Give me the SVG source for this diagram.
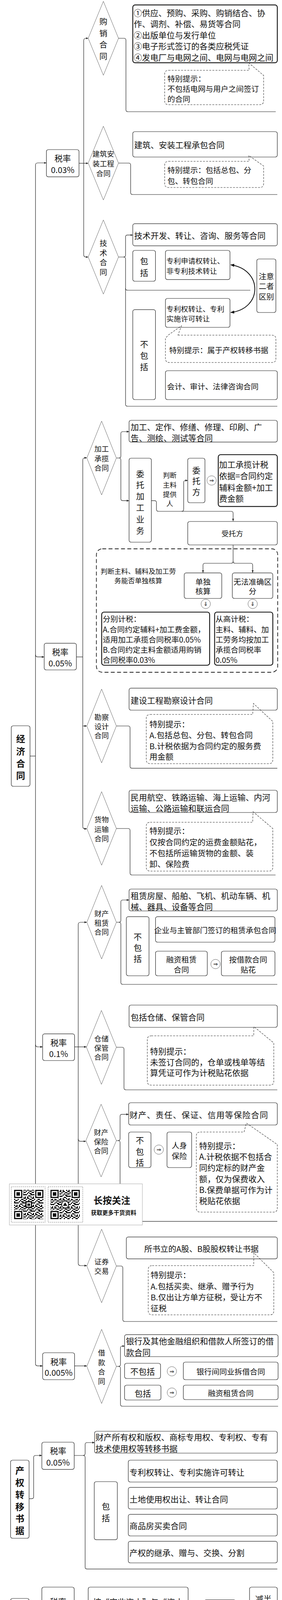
<svg xmlns="http://www.w3.org/2000/svg" width="721" height="5139" viewBox="0 0 721 5139">
<defs>
<style>
text{font-family:"Noto Sans CJK SC","Noto Sans",sans-serif;fill:#111;dominant-baseline:central}
.m{text-anchor:middle}
.f17{font-size:17.5px}.f18{font-size:18.5px}.f19{font-size:19.5px}.f20{font-size:20.5px}.f21{font-size:21px}
.tb{font-size:23px;font-weight:700}
.b{fill:#fff;stroke:#222;stroke-width:1.2}
.bt{fill:#fff;stroke:#111;stroke-width:2.2}
.d{fill:#fff;stroke:#555;stroke-width:0.9}
.c{fill:none;stroke:#333;stroke-width:1.1;stroke-dasharray:5 3}
.l{fill:none;stroke:#222;stroke-width:1.2}
.me{marker-end:url(#a)}
.ar{fill:#fff;stroke:#555;stroke-width:0.9}
.at{font-family:"DejaVu Sans",sans-serif;font-size:14px;text-anchor:middle}
</style>
<marker id="a" viewBox="0 0 6 6" refX="6" refY="3" markerWidth="6" markerHeight="6" markerUnits="userSpaceOnUse" orient="auto"><path d="M0,0.5 L6,3 L0,5.5 z" fill="#222"/></marker>
<marker id="a2" viewBox="0 0 10 10" refX="9" refY="5" markerWidth="10" markerHeight="10" markerUnits="userSpaceOnUse" orient="auto-start-reverse"><path d="M0,1 L10,5 L0,9 z" fill="#111"/></marker>
<pattern id="qrp" width="21" height="21" patternUnits="userSpaceOnUse"><path d="M0,0h3v3h-3z M6,0h6v3h-6z M18,0h3v3h-3z M3,3h3v3h-3z M12,3h6v3h-6z M0,6h3v3h-3z M9,6h3v3h-3z M18,6h3v3h-3z M6,9h3v3h-3z M12,9h6v3h-6z M0,12h6v3h-6z M15,12h6v3h-6z M9,15h6v3h-6z M0,18h3v3h-3z M6,18h3v3h-3z M15,18h3v3h-3z" fill="#111"/></pattern>
<pattern id="qrp2" href="#qrp" patternTransform="translate(7,4)"/>
<g id="fp"><rect x="-2" y="-2" width="25" height="25" fill="#fff"/><rect width="21" height="21" fill="#111"/><rect x="3" y="3" width="15" height="15" fill="#fff"/><rect x="6" y="6" width="9" height="9" fill="#111"/></g>
</defs>
<rect width="721" height="5139" fill="#fff"/>

<g id="connectors">
<path class="l" d="M76.7,1935.5 H90.7"/>
<path class="l" d="M90.7,423 V3490.7"/>
<path class="l me" d="M90.7,423 Q90.7,417 96.7,417 H118.6"/>
<path class="l me" d="M90.7,1675.7 Q90.7,1681.7 96.7,1681.7 H113"/>
<path class="l me" d="M90.7,2674 Q90.7,2680 96.7,2680 H109"/>
<path class="l me" d="M90.7,3490.7 Q90.7,3496.7 96.7,3496.7 H109"/>
<path class="l" d="M202,418 H214"/>
<path class="l" d="M214,104 V652"/>
<path class="l me" d="M214,104 Q214,98 220,98 H225.5"/>
<path class="l me" d="M214,418 H225.5"/>
<path class="l me" d="M214,652 Q214,658 220,658 H225.5"/>
<path class="l" d="M303,98 H317 Q322,98 322,103 V281 Q322,286 327,286 H705"/>
<path class="l" d="M303,417.5 H329 Q334,417.5 334,422.5 V493 Q334,498 339,498 H709"/>
<path class="l me" d="M303,658 H316 Q321,658 321,653 V606.7 Q321,601.7 326,601.7 H339.5"/>
<path class="l" d="M316,658 Q321,658 321,663 V1035 Q321,1040 326,1040 H709"/>
<path class="l" d="M321,738 Q321,743 326,743 H640"/>
<path fill="none" stroke="#111" stroke-width="2" marker-start="url(#a2)" marker-end="url(#a2)" d="M590,678 C672,690 672,790 590,800"/>
<path class="l" d="M195,1681.7 H211.6"/>
<path class="l" d="M211.6,1178 V2115.7"/>
<path class="l me" d="M211.6,1178 Q211.6,1172 217.6,1172 H222"/>
<path class="l me" d="M211.6,1858.5 H222"/>
<path class="l me" d="M211.6,2115.7 Q211.6,2121.7 217.6,2121.7 H222"/>
<path class="l me" d="M297.6,1172.5 H304 Q309,1172.5 309,1167.5 V1110 Q309,1105 314,1105 H330"/>
<path class="l me" d="M304,1172.5 Q309,1172.5 309,1177.5 V1276.7 Q309,1281.7 314,1281.7 H330"/>
<path class="l me" d="M387,1281.7 H395 Q400,1281.7 400,1286.7 V1304 Q400,1309 405,1309 H591 Q596,1309 596,1314 V1334"/>
<path class="l me" d="M464.6,1309 Q469.6,1309 469.6,1304 V1235 Q469.6,1230 474.6,1230 H480"/>
<path class="l me" d="M596,1395 V1437 Q596,1442 591,1442 H524 Q519,1442 519,1447 V1466"/>
<path class="l me" d="M596,1437 Q596,1442 601,1442 H641 Q646,1442 646,1447 V1466"/>
<path class="l" d="M297.6,1858.5 H327.5 Q332.5,1858.5 332.5,1863.5 V1961.7 Q332.5,1966.7 337.5,1966.7 H709"/>
<path class="l" d="M297.6,2121 H327.5 Q332.5,2121 332.5,2126 V2235 Q332.5,2240 337.5,2240 H704.5"/>
<path class="l me" d="M190.6,2680 H221"/>
<path class="l" d="M200,2367 V3234"/>
<path class="l me" d="M200,2367 Q200,2361 206,2361 H222"/>
<path class="l me" d="M200,2915.7 Q200,2921.7 206,2921.7 H219.5"/>
<path class="l me" d="M200,3234 Q200,3240 206,3240 H222"/>
<path class="l me" d="M297.6,2361 H304 Q309,2361 309,2356 V2309 Q309,2304 314,2304 H330"/>
<path class="l" d="M304,2361 Q309,2361 309,2366 V2515 Q309,2520 314,2520 H709"/>
<path class="l" d="M297.6,2681 H312 Q317,2681 317,2686 V2785 Q317,2790 322,2790 H709"/>
<path class="l me" d="M297.6,2920 H302 Q307,2920 307,2915 V2857.7 Q307,2852.7 312,2852.7 H329"/>
<path class="l" d="M302,2920 Q307,2920 307,2925 V3121.7 Q307,3126.7 312,3126.7 H709"/>
<path class="l" d="M297.6,3241 H309 Q314,3241 314,3246 V3378 Q314,3383 319,3383 H709"/>
<path class="l me" d="M190.6,3496.7 H222"/>
<path class="l me" d="M297.6,3498 H303 Q308,3498 308,3493 V3451 Q308,3446 313,3446 H318.5"/>
<path class="l" d="M303,3498 Q308,3498 308,3503 V3595 Q308,3600 313,3600 H711"/>
<path class="l me" d="M74.4,3836.7 H81 Q86,3836.7 86,3831.7 V3731 Q86,3726 91,3726 H107"/>
<path class="l me" d="M189.7,3726 H212.6 Q217.6,3726 217.6,3721 V3698 Q217.6,3693 222.6,3693 H241.8"/>
<path class="l" d="M212.6,3726 Q217.6,3726 217.6,3731 V4011.7 Q217.6,4016.7 222.6,4016.7 H709"/>
<path class="l me" d="M74.4,4168 H82.4 Q87.4,4168 87.4,4163 V4117.7 Q87.4,4112.7 92.4,4112.7 H107"/>
<path class="l me" d="M82.4,4168 Q87.4,4168 87.4,4173 V4224 Q87.4,4229 92.4,4229 H107"/>
<path class="l me" d="M189.7,4112.7 H225.5"/>
<path class="l me" d="M189.7,4229 H225.5"/>
<path class="l" d="M481,4112.7 H495 Q500,4112.7 500,4117.7 V4286.7 Q500,4291.7 505,4291.7 H709"/>
<path class="l me" d="M481,4229 H500"/>
<path class="l me" d="M82.8,4416.7 H107"/>
<path class="l" d="M189.7,4416.7 H199.6 Q204.6,4416.7 204.6,4421.7 V4505 Q204.6,4510 209.6,4510 H704.5"/>
<path class="l" d="M82.8,4641.7 H92.6 Q97.6,4641.7 97.6,4646.7 V4738 Q97.6,4743 102.6,4743 H702"/>
<path class="l me" d="M82.8,4866.7 H118.6"/>
<path class="l" d="M223,4866.7 H709"/>
<path class="l" d="M223,4866.7 H231 Q236,4866.7 236,4871.7 V4939 Q236,4944 241,4944 H709"/>
</g>

<g id="n-jingji"><rect class="b" x="28.8" y="1858" width="47.9" height="155" rx="5"/>
<text class="tb m" x="52.7" y="1890">经</text><text class="tb m" x="52.7" y="1921.7">济</text><text class="tb m" x="52.7" y="1953">合</text><text class="tb m" x="52.7" y="1984">同</text></g>

<g id="n-r003"><rect class="b" x="118.6" y="383" width="83.4" height="69.7" rx="5"/><text class="f21 m" x="160.3" y="404">税率</text><text class="f21 m" x="160.3" y="434">0.03%</text></g>
<g id="n-gouxiao"><polygon class="d" points="225.5,98 264.3,3.3 303,98 264.3,192.7"/>
<text class="f20 m" x="264.3" y="54">购</text><text class="f20 m" x="264.3" y="83.5">销</text><text class="f20 m" x="264.3" y="113">合</text><text class="f20 m" x="264.3" y="142.5">同</text></g>
<g id="n-gx1"><rect class="bt" x="339.5" y="12.7" width="369.5" height="148" rx="6"/>
<text class="f21" x="342" y="31.7">①供应、预购、采购、购销结合、协</text><text class="f21" x="342" y="60">作、调剂、补偿、易货等合同</text><text class="f21" x="342" y="88.5">②出版单位与发行单位</text><text class="f21" x="342" y="117">③电子形式签订的各类应税凭证</text><text class="f21" x="342" y="145.7">④发电厂与电网之间、电网与电网之间</text></g>
<g id="n-gx2"><path class="c" d="M431,180 H637 L636,161 L674,193 V258 Q674,268 664,268 H431 Q421,268 421,258 V190 Q421,180 431,180 Z"/>
<text class="f19" x="428" y="200">特别提示：</text><text class="f19" x="428" y="226">不包括电网与用户之间签订</text><text class="f19" x="428" y="252">的合同</text></g>

<g id="n-jianzhu"><polygon class="d" points="225.5,417.5 264.3,323 303,417.5 264.3,512"/>
<text class="f18 m" x="264.3" y="393">建筑安</text><text class="f18 m" x="264.3" y="418">装工程</text><text class="f18 m" x="264.3" y="443">合同</text></g>
<g id="n-jz1"><rect class="b" x="339.5" y="337" width="369.5" height="65" rx="5"/><text class="f21" x="343" y="370">建筑、安装工程承包合同</text></g>
<g id="n-jz2"><path class="c" d="M431,413 H637 L636,398 L674,425 V470 Q674,480 664,480 H431 Q421,480 421,470 V423 Q421,413 431,413 Z"/>
<text class="f19" x="428" y="434">特别提示：包括总包、分</text><text class="f19" x="428" y="462">包、转包合同</text></g>

<g id="n-jishu"><polygon class="d" points="225.5,658 264.3,563 303,658 264.3,753"/>
<text class="f19 m" x="264.3" y="621.7">技</text><text class="f19 m" x="264.3" y="646">术</text><text class="f19 m" x="264.3" y="670.5">合</text><text class="f19 m" x="264.3" y="695">同</text></g>
<g id="n-js1"><rect class="b" x="339.5" y="572.7" width="369.5" height="56.6" rx="5"/><text class="f21" x="343" y="601.7">技术开发、转让、咨询、服务等合同</text></g>
<g id="n-js2"><rect class="b" x="339.5" y="641" width="58" height="79" rx="5"/><text class="f21 m" x="368.5" y="666.7">包</text><text class="f21 m" x="368.5" y="696.7">括</text></g>
<g id="n-js3"><rect class="b" x="423" y="641" width="165" height="74.7" rx="5"/><text class="f18" x="425.5" y="667">专利申请权转让、</text><text class="f18" x="425.5" y="693">非专利技术转让</text></g>
<g id="n-js4"><rect class="b" x="656.6" y="663" width="48.8" height="137" rx="5"/><text class="f19 m" x="681" y="706.7">注意</text><text class="f19 m" x="681" y="731.7">二者</text><text class="f19 m" x="681" y="758">区别</text></g>
<g id="n-js5"><rect class="b" x="423" y="764" width="165" height="74" rx="5"/><text class="f18" x="425.5" y="790">专利权转让、专利</text><text class="f18" x="425.5" y="815">实施许可转让</text></g>
<g id="n-js6"><rect class="b" x="339.5" y="792.7" width="58" height="230.3" rx="5"/><text class="f21 m" x="368.5" y="880">不</text><text class="f21 m" x="368.5" y="909">包</text><text class="f21 m" x="368.5" y="938">括</text></g>
<g id="n-js7"><path class="c" d="M455,858 H695.4 Q705.4,858 705.4,868 V918 Q705.4,928 695.4,928 H433 Q423,928 423,918 V866 L430,858 L464,834 Z"/><text class="f19" x="432.5" y="895">特别提示：属于产权转移书据</text></g>
<g id="n-js8"><rect class="b" x="423" y="949" width="286" height="74" rx="5"/><text class="f19" x="427" y="988">会计、审计、法律咨询合同</text></g>

<g id="n-r005"><rect class="b" x="113" y="1646.7" width="82.3" height="68.3" rx="5"/><text class="f21 m" x="154" y="1668">税率</text><text class="f21 m" x="154" y="1697">0.05%</text></g>
<g id="n-jiagong"><polygon class="d" points="222,1172.5 259.8,1078 297.6,1172.5 259.8,1267"/>
<text class="f18 m" x="259.8" y="1148">加工</text><text class="f18 m" x="259.8" y="1173">承揽</text><text class="f18 m" x="259.8" y="1197">合同</text></g>
<g id="n-jg1"><rect class="b" x="330" y="1076" width="379" height="55.7" rx="5"/><text class="f21" x="334" y="1091.7">加工、定作、修缮、修理、印刷、广</text><text class="f21" x="334" y="1120">告、测绘、测试等合同</text></g>
<g id="n-jg2"><rect class="b" x="330" y="1173" width="57" height="215" rx="5"/>
<text class="f21 m" x="358.5" y="1211.7">委</text><text class="f21 m" x="358.5" y="1240">托</text><text class="f21 m" x="358.5" y="1269">加</text><text class="f21 m" x="358.5" y="1298">工</text><text class="f21 m" x="358.5" y="1328">业</text><text class="f21 m" x="358.5" y="1357">务</text></g>
<g id="n-jg3"><text class="f17 m" x="434" y="1215">判断</text><text class="f17 m" x="434" y="1240">主料</text><text class="f17 m" x="434" y="1264">提供</text><text class="f17 m" x="434" y="1288">人</text></g>
<g id="n-jg4"><rect class="b" x="480" y="1173" width="44" height="114" rx="5"/><text class="f21 m" x="502" y="1203">委</text><text class="f21 m" x="502" y="1230">托</text><text class="f21 m" x="502" y="1258">方</text></g>
<g id="n-jg5"><circle class="ar" cx="541" cy="1230" r="12"/><text class="at" x="541" y="1230">⇒</text></g>
<g id="n-jg6"><rect class="bt" x="558" y="1164" width="151" height="132.7" rx="6"/>
<text class="f21" x="560" y="1188">加工承揽计税</text><text class="f21" x="560" y="1217">依据=合同约定</text><text class="f21" x="560" y="1246.5">辅料金额+加工</text><text class="f21" x="560" y="1275">费金额</text></g>
<g id="n-jg7"><rect class="b" x="480" y="1335" width="229" height="60" rx="5"/><text class="f18 m" x="594" y="1365">受托方</text></g>
<g id="n-jg8"><rect x="246.5" y="1405" width="463.5" height="316" rx="15" fill="none" stroke="#222" stroke-width="1.8" stroke-dasharray="10 6"/>
<text class="f17 m" x="353.5" y="1461.7">判断主料、辅料及加工劳</text><text class="f17 m" x="353.5" y="1485">务能否单独核算</text></g>
<g id="n-jg9"><rect class="b" x="471" y="1466.7" width="96" height="65.3" rx="5"/><text class="f19 m" x="519" y="1488">单独</text><text class="f19 m" x="519" y="1512">核算</text></g>
<g id="n-jg10"><rect class="b" x="594" y="1466.7" width="103.5" height="65.3" rx="5"/><text class="f19 m" x="645.7" y="1488">无法准确区</text><text class="f19 m" x="645.7" y="1512">分</text></g>
<g id="n-jg11"><circle class="ar" cx="526" cy="1546" r="12"/><text class="at" x="526" y="1546">⇓</text><circle class="ar" cx="646" cy="1546" r="12"/><text class="at" x="646" y="1546">⇓</text></g>
<g id="n-jg12"><rect class="bt" x="260" y="1567" width="276" height="136" rx="6"/>
<text class="f19" x="262.7" y="1583">分别计税：</text><text class="f19" x="262.7" y="1610">A.合同约定辅料+加工费金额，</text><text class="f19" x="262.7" y="1636.7">适用加工承揽合同税率0.05%</text><text class="f19" x="262.7" y="1662.7">B.合同约定主料金额适用购销</text><text class="f19" x="262.7" y="1688">合同税率0.03%</text></g>
<g id="n-jg13"><rect class="bt" x="548.7" y="1567" width="148.8" height="136" rx="6"/>
<text class="f19" x="551" y="1583">从高计税：</text><text class="f19" x="551" y="1610">主料、辅料、加</text><text class="f19" x="551" y="1636.7">工劳务均按加工</text><text class="f19" x="551" y="1662.7">承揽合同税率</text><text class="f19" x="551" y="1688">0.05%</text></g>

<g id="n-kancha"><polygon class="d" points="222,1858.5 259.8,1764 297.6,1858.5 259.8,1953"/>
<text class="f18 m" x="259.8" y="1835">勘察</text><text class="f18 m" x="259.8" y="1858.5">设计</text><text class="f18 m" x="259.8" y="1882">合同</text></g>
<g id="n-kc1"><rect class="b" x="330" y="1761.7" width="379" height="56.3" rx="5"/><text class="f21" x="334" y="1791.7">建设工程勘察设计合同</text></g>
<g id="n-kc2"><path class="c" d="M384,1829 H646 L648,1801 L697.5,1847 V1945 Q697.5,1955 687.5,1955 H384 Q374,1955 374,1945 V1839 Q374,1829 384,1829 Z"/>
<text class="f20" x="382" y="1853">特别提示：</text><text class="f20" x="382" y="1881">A.包括总包、分包、转包合同</text><text class="f20" x="382" y="1908.5">B.计税依据为合同约定的服务费</text><text class="f20" x="382" y="1936">用金额</text></g>

<g id="n-huowu"><polygon class="d" points="222,2121 259.8,2026.7 297.6,2121 259.8,2215"/>
<text class="f18 m" x="259.8" y="2097">货物</text><text class="f18 m" x="259.8" y="2121.5">运输</text><text class="f18 m" x="259.8" y="2145.5">合同</text></g>
<g id="n-hw1"><rect class="b" x="330" y="2023" width="379" height="57" rx="5"/><text class="f21" x="334" y="2040">民用航空、铁路运输、海上运输、内河</text><text class="f21" x="334" y="2068">运输、公路运输和联运合同</text></g>
<g id="n-hw2"><path class="c" d="M384,2105 H646 L647,2078 L697.5,2121 V2220 Q697.5,2230 687.5,2230 H384 Q374,2230 374,2220 V2115 Q374,2105 384,2105 Z"/>
<text class="f20" x="382" y="2126">特别提示：</text><text class="f20" x="382" y="2154.5">仅按合同约定的运费金额贴花，</text><text class="f20" x="382" y="2183">不包括所运输货物的金额、装</text><text class="f20" x="382" y="2211">卸、保险费</text></g>

<g id="n-r01"><rect class="b" x="109" y="2646.7" width="81.6" height="68.3" rx="5"/><text class="f21 m" x="149.8" y="2668">税率</text><text class="f21 m" x="149.8" y="2696.7">0.1%</text></g>
<g id="n-zulin"><polygon class="d" points="222,2361 259.8,2266.7 297.6,2361 259.8,2455"/>
<text class="f18 m" x="259.8" y="2338">财产</text><text class="f18 m" x="259.8" y="2361.7">租赁</text><text class="f18 m" x="259.8" y="2385">合同</text></g>
<g id="n-zl1"><rect class="b" x="330" y="2276" width="379" height="56" rx="5"/><text class="f21" x="334" y="2291.7">租赁房屋、船舶、飞机、机动车辆、机</text><text class="f21" x="334" y="2320">械、器具、设备等合同</text></g>
<g id="n-zl2"><rect class="b" x="323" y="2346.7" width="58" height="151.3" rx="5"/><text class="f21 m" x="352" y="2396.7">不</text><text class="f21 m" x="352" y="2425">包</text><text class="f21 m" x="352" y="2453">括</text></g>
<g id="n-zl3"><rect class="b" x="397.6" y="2346.7" width="305.4" height="65.3" rx="5"/><text class="f19 m" x="550.3" y="2380">企业与主管部门签订的租赁承包合同</text></g>
<g id="n-zl4"><rect class="b" x="397.6" y="2435" width="132.4" height="63" rx="5"/><text class="f19 m" x="463.8" y="2455">融资租赁</text><text class="f19 m" x="463.8" y="2481">合同</text></g>
<g id="n-zl5"><circle class="ar" cx="551" cy="2468" r="12"/><text class="at" x="551" y="2468">⇒</text></g>
<g id="n-zl6"><rect class="b" x="566" y="2435" width="137" height="63" rx="5"/><text class="f19 m" x="634.5" y="2455">按借款合同</text><text class="f19 m" x="634.5" y="2481">贴花</text></g>

<g id="n-cangchu"><polygon class="d" points="221,2681 259.3,2586.7 297.6,2681 259.3,2776"/>
<text class="f18 m" x="259.3" y="2658">仓储</text><text class="f18 m" x="259.3" y="2681.7">保管</text><text class="f18 m" x="259.3" y="2705">合同</text></g>
<g id="n-cc1"><rect class="b" x="330" y="2573" width="379" height="57" rx="5"/><text class="f21" x="334" y="2602.7">包括仓储、保管合同</text></g>
<g id="n-cc2"><path class="c" d="M386.6,2651.7 H648.7 L649,2628 L700,2670 V2768 Q700,2778 690,2778 H386.6 Q376.6,2778 376.6,2768 V2661.7 Q376.6,2651.7 386.6,2651.7 Z"/>
<text class="f21" x="383.6" y="2690">特别提示：</text><text class="f21" x="383.6" y="2718">未签订合同的，仓单或栈单等结</text><text class="f21" x="383.6" y="2745">算凭证可作为计税贴花依据</text></g>

<g id="n-baoxian"><polygon class="d" points="219.5,2920 258.5,2826.7 297.6,2920 258.5,3013"/>
<text class="f18 m" x="258.5" y="2898">财产</text><text class="f18 m" x="258.5" y="2921.7">保险</text><text class="f18 m" x="258.5" y="2945">合同</text></g>
<g id="n-bx1"><rect class="b" x="329" y="2823" width="380" height="57" rx="5"/><text class="f21" x="331" y="2853" letter-spacing="1.2">财产、责任、保证、信用等保险合同</text></g>
<g id="n-bx2"><rect class="b" x="329" y="2898" width="57" height="91" rx="5"/><text class="f21 m" x="357.5" y="2918">不</text><text class="f21 m" x="357.5" y="2946.7">包</text><text class="f21 m" x="357.5" y="2975">括</text></g>
<g id="n-bx3"><circle class="ar" cx="406" cy="2943" r="12"/><text class="at" x="406" y="2943">⇒</text></g>
<g id="n-bx4"><rect class="b" x="427" y="2898" width="63" height="91" rx="5"/><text class="f19 m" x="458.5" y="2931.7">人身</text><text class="f19 m" x="458.5" y="2958">保险</text></g>
<g id="n-bx5"><path class="c" d="M512,2898 H624 L630,2875 L709,2930 V3093 Q709,3103 699,3103 H512 Q502,3103 502,3093 V2908 Q502,2898 512,2898 Z"/>
<text class="f21" x="509" y="2931.7">特别提示：</text><text class="f21" x="509" y="2960">A.计税依据不包括合</text><text class="f21" x="509" y="2988.3">同约定标的财产金</text><text class="f21" x="509" y="3016.7">额，仅为保费收入</text><text class="f21" x="509" y="3045">B.保费单据可作为计</text><text class="f21" x="509" y="3073.3">税贴花依据</text></g>

<g id="n-zhengquan"><polygon class="d" points="222,3241 259.8,3146.7 297.6,3241 259.8,3335"/>
<text class="f18 m" x="259.8" y="3229">证券</text><text class="f18 m" x="259.8" y="3253">交易</text></g>
<g id="n-zq1"><rect class="b" x="323" y="3166.7" width="386" height="56" rx="5"/><text class="f20 m" x="515" y="3196">所书立的A股、B股股权转让书据</text></g>
<g id="n-zq2"><path class="c" d="M389,3240 H648.7 L649,3207 L700,3258 V3356 Q700,3366 690,3366 H389 Q379,3366 379,3356 V3250 Q379,3240 389,3240 Z"/>
<text class="f20" x="385" y="3263">特别提示：</text><text class="f20" x="385" y="3291.7">A.包括买卖、继承、赠予行为</text><text class="f20" x="385" y="3320">B.仅出让方单方征税，受让方不</text><text class="f20" x="385" y="3348">征税</text></g>

<g id="n-r0005"><rect class="b" x="109" y="3463" width="81.6" height="69" rx="5"/><text class="f21 m" x="149.8" y="3485">税率</text><text class="f21 m" x="149.8" y="3513">0.005%</text></g>
<g id="n-jiekuan"><polygon class="d" points="222,3498 259.8,3403 297.6,3498 259.8,3593"/>
<text class="f18 m" x="259.8" y="3461.7">借</text><text class="f18 m" x="259.8" y="3486.5">款</text><text class="f18 m" x="259.8" y="3511">合</text><text class="f18 m" x="259.8" y="3535">同</text></g>
<g id="n-jk1"><rect class="b" x="318.5" y="3416.7" width="392.5" height="56.3" rx="5"/><text class="f21" x="322" y="3432">银行及其他金融组织和借款人所签订的借</text><text class="f21" x="322" y="3461">款合同</text></g>
<g id="n-jk2"><rect class="b" x="318.5" y="3490" width="92" height="39" rx="5"/><text class="f21 m" x="364.5" y="3510">不包括</text></g>
<g id="n-jk3"><circle class="ar" cx="439.4" cy="3510.5" r="12"/><text class="at" x="439.4" y="3510.5">⇒</text></g>
<g id="n-jk4"><rect class="b" x="468.7" y="3487" width="242.3" height="45" rx="5"/><text class="f19 m" x="590" y="3510">银行间同业拆借合同</text></g>
<g id="n-jk5"><rect class="b" x="318.5" y="3546" width="93" height="38" rx="5"/><text class="f21 m" x="365" y="3565.5">包括</text></g>
<g id="n-jk6"><circle class="ar" cx="439.4" cy="3565" r="12"/><text class="at" x="439.4" y="3565">⇒</text></g>
<g id="n-jk7"><rect class="b" x="468.7" y="3546" width="242.3" height="37" rx="5"/><text class="f19 m" x="590" y="3565">融资租赁合同</text></g>

<g id="n-chanquan"><rect class="b" x="27" y="3738" width="47.4" height="200" rx="5"/>
<text class="tb m" x="50.7" y="3763">产</text><text class="tb m" x="50.7" y="3794">权</text><text class="tb m" x="50.7" y="3825">转</text><text class="tb m" x="50.7" y="3856">移</text><text class="tb m" x="50.7" y="3886">书</text><text class="tb m" x="50.7" y="3917">据</text></g>
<g id="n-cq-r"><rect class="b" x="107" y="3692" width="82.7" height="69.7" rx="5"/><text class="f21 m" x="148.4" y="3713">税率</text><text class="f21 m" x="148.4" y="3742.7">0.05%</text></g>
<g id="n-cq1"><rect class="b" x="241.8" y="3664" width="467.2" height="56" rx="5"/><text class="f21" x="244" y="3678">财产所有权和版权、商标专用权、专利权、专有</text><text class="f21" x="244" y="3706.7">技术使用权等转移书据</text></g>
<g id="n-cq2"><rect class="b" x="241" y="3793" width="59" height="148.7" rx="5"/><text class="f21 m" x="270.5" y="3855">包</text><text class="f21 m" x="270.5" y="3885">括</text></g>
<g id="n-cq3"><rect class="b" x="328" y="3738" width="381" height="56" rx="5"/><text class="f21" x="331" y="3768.3">专利权转让、专利实施许可转让</text></g>
<g id="n-cq4"><rect class="b" x="328" y="3807.7" width="381" height="55.3" rx="5"/><text class="f21" x="331" y="3836.7">土地使用权出让、转让合同</text></g>
<g id="n-cq5"><rect class="b" x="328" y="3876.7" width="381" height="55.3" rx="5"/><text class="f21" x="331" y="3905">商品房买卖合同</text></g>
<g id="n-cq6"><rect class="b" x="328" y="3945.7" width="381" height="55.3" rx="5"/><text class="f21" x="331" y="3974.3">产权的继承、赠与、交换、分割</text></g>

<g id="n-yingye"><rect class="b" x="27" y="4092" width="47.4" height="154" rx="5"/>
<text class="tb m" x="50.7" y="4123">营</text><text class="tb m" x="50.7" y="4156">业</text><text class="tb m" x="50.7" y="4188">账</text><text class="tb m" x="50.7" y="4218">簿</text></g>
<g id="n-yy-r"><rect class="b" x="107" y="4063" width="82.7" height="98" rx="5"/><text class="f21 m" x="148.4" y="4099">税率</text><text class="f21 m" x="148.4" y="4128">0.05%</text></g>
<g id="n-yy-5"><rect class="b" x="107" y="4177" width="82.7" height="104.7" rx="5"/><text class="f21 m" x="148.4" y="4230">5元/件</text></g>
<g id="n-yy1"><rect class="b" x="225.5" y="4063" width="255.5" height="98" rx="5"/><text class="f21 m" x="353.3" y="4100">按“实收资本”与“资本</text><text class="f21 m" x="353.3" y="4128">公积”两项的合计金额</text></g>
<g id="n-yy2"><rect class="b" x="225.5" y="4177" width="255.5" height="104.7" rx="5"/><text class="f21 m" x="353.3" y="4202">其他账簿包括会计部门设</text><text class="f21 m" x="353.3" y="4231">置的账簿、其他部门设置</text><text class="f21 m" x="353.3" y="4260">的明细分类账</text></g>
<g id="n-yy3"><rect class="b" x="521.7" y="4095.7" width="81.3" height="147.3" rx="5"/><text class="f21 m" x="562.4" y="4141.7">2018年</text><text class="f21 m" x="562.4" y="4171.7">5月1日</text><text class="f21 m" x="562.4" y="4200">起</text></g>
<g id="n-yy4"><circle class="ar" cx="620.8" cy="4121.7" r="12"/><text class="at" x="620.8" y="4121.7">⇒</text><circle class="ar" cx="620.8" cy="4213.3" r="12"/><text class="at" x="620.8" y="4213.3">⇒</text></g>
<g id="n-yy5"><rect class="b" x="638" y="4063" width="71" height="86" rx="5"/><text class="f21 m" x="673.5" y="4091.7">减半</text><text class="f21 m" x="673.5" y="4123">征收</text></g>
<g id="n-yy6"><rect class="b" x="638" y="4186.7" width="71" height="85" rx="5"/><text class="f21 m" x="673.5" y="4230">免征</text></g>

<g id="n-quanli"><rect class="b" x="27" y="4338" width="55.8" height="157" rx="5"/>
<text class="tb m" x="55" y="4386.7">权利</text><text class="tb m" x="55" y="4418">许可</text><text class="tb m" x="55" y="4449">证照</text></g>
<g id="n-ql-5"><rect class="b" x="107" y="4364" width="82.7" height="102.7" rx="5"/><text class="f21 m" x="146.6" y="4416.7">5元/件</text></g>
<g id="n-ql1"><rect class="bt" x="225.5" y="4338" width="261.5" height="155" rx="6"/>
<text class="f21" x="227" y="4360">A.房产证</text><text class="f21" x="227" y="4389">B.土地使用者</text><text class="f21" x="227" y="4418">C.工商营业执照</text><text class="f21" x="227" y="4446.7">D.商标注册证</text><text class="f21" x="227" y="4475">E.专利权证</text></g>
<g id="n-ql2"><path class="c" d="M510,4381.7 H699 Q709,4381.7 709,4391.7 V4485 Q709,4495 699,4495 H510 Q500,4495 500,4485 V4475 L463,4463 L500,4450 V4391.7 Q500,4381.7 510,4381.7 Z"/>
<text class="f19" x="508" y="4400">特别提示：</text><text class="f19" x="508" y="4427">下列举项目，有且仅</text><text class="f19" x="508" y="4454">有该五项权利许可证</text><text class="f19" x="508" y="4480">照贴花</text></g>

<g id="n-qita"><rect class="b" x="27" y="4565" width="55.8" height="153" rx="5"/>
<text class="tb m" x="55" y="4597">其</text><text class="tb m" x="55" y="4628">他</text><text class="tb m" x="55" y="4658">凭</text><text class="tb m" x="55" y="4688">证</text></g>
<g id="n-qt1"><rect class="b" x="118.6" y="4565" width="259.4" height="56.7" rx="5"/><text class="f21" x="122" y="4580">在中国境内具有法律效</text><text class="f21" x="122" y="4606.7">力，不论是否在境内书立</text></g>
<g id="n-qt2"><circle class="ar" cx="394.3" cy="4592.7" r="12"/><text class="at" x="394.3" y="4592.7">⇐</text></g>
<g id="n-qt3"><rect class="b" x="415" y="4565" width="294" height="56.7" rx="5"/><text class="f21" x="417.6" y="4580">境外书立、领受但在境内使用</text><text class="f21" x="417.6" y="4606.7">的应税凭证</text></g>
<g id="n-qt4"><rect class="b" x="118.6" y="4661.7" width="590.4" height="56.3" rx="5"/><text class="f21" x="122" y="4690">性质属于条例列举范围的凭证，均应计税贴花</text></g>

<g id="n-tongyi"><rect class="b" x="27" y="4789" width="55.8" height="154" rx="5"/>
<text class="tb m" x="55" y="4806">同一</text><text class="tb m" x="55" y="4836.7">凭证</text><text class="tb m" x="55" y="4867">适用</text><text class="tb m" x="55" y="4898">不同</text><text class="tb m" x="55" y="4928">税率</text></g>
<g id="n-ty1"><rect class="b" x="118.6" y="4838" width="104.4" height="57" rx="5"/><text class="f21 m" x="170.8" y="4853">是否分别</text><text class="f21 m" x="170.8" y="4881.7">记载金额</text></g>
<g id="n-ty2"><text class="f19 m" x="258" y="4838">是</text><text class="f19 m" x="258" y="4911.7">否</text></g>
<g id="n-ty3"><rect class="b" x="301" y="4802" width="408" height="56" rx="5"/><text class="f21" x="304.6" y="4831.7">分别计算应纳税额，根据合计金额贴花</text></g>
<g id="n-ty4"><rect class="b" x="301" y="4875" width="408" height="57" rx="5"/><text class="f21" x="304.6" y="4905">从高计征，根据最高税率计算贴花</text></g>

<g id="banner">
<rect x="24" y="3030.7" width="340" height="105.3" fill="#fff" stroke="#aaa" stroke-width="1"/>
<rect x="29" y="3038" width="86.3" height="91" fill="none" stroke="#555" stroke-width="0.8" stroke-dasharray="3 2"/>
<rect x="123" y="3038" width="88.6" height="91" fill="none" stroke="#555" stroke-width="0.8" stroke-dasharray="3 2"/>
<rect x="36" y="3046" width="75" height="75" fill="url(#qrp)"/>
<use href="#fp" x="36" y="3046"/><use href="#fp" x="90" y="3046"/><use href="#fp" x="36" y="3100"/>
<rect x="65" y="3075" width="17" height="17" fill="#111"/><rect x="68" y="3078" width="11" height="11" fill="#fff"/><rect x="70" y="3081" width="7" height="6" fill="#111"/>
<rect x="129" y="3046" width="75" height="75" fill="url(#qrp2)"/>
<use href="#fp" x="129" y="3046"/><use href="#fp" x="183" y="3046"/><use href="#fp" x="129" y="3100"/>
<circle cx="166.5" cy="3083.5" r="9" fill="#fff" stroke="#111" stroke-width="2"/><path d="M161,3087 L166.5,3078 L172,3087 Z" fill="#111"/>
<text x="286" y="3071.7" class="m" style="font-size:23.5px;font-weight:700">长按关注</text>
<text x="290.6" y="3103" class="m" style="font-size:14.5px;font-weight:700">获取更多干货资料</text>
</g>
</svg>
